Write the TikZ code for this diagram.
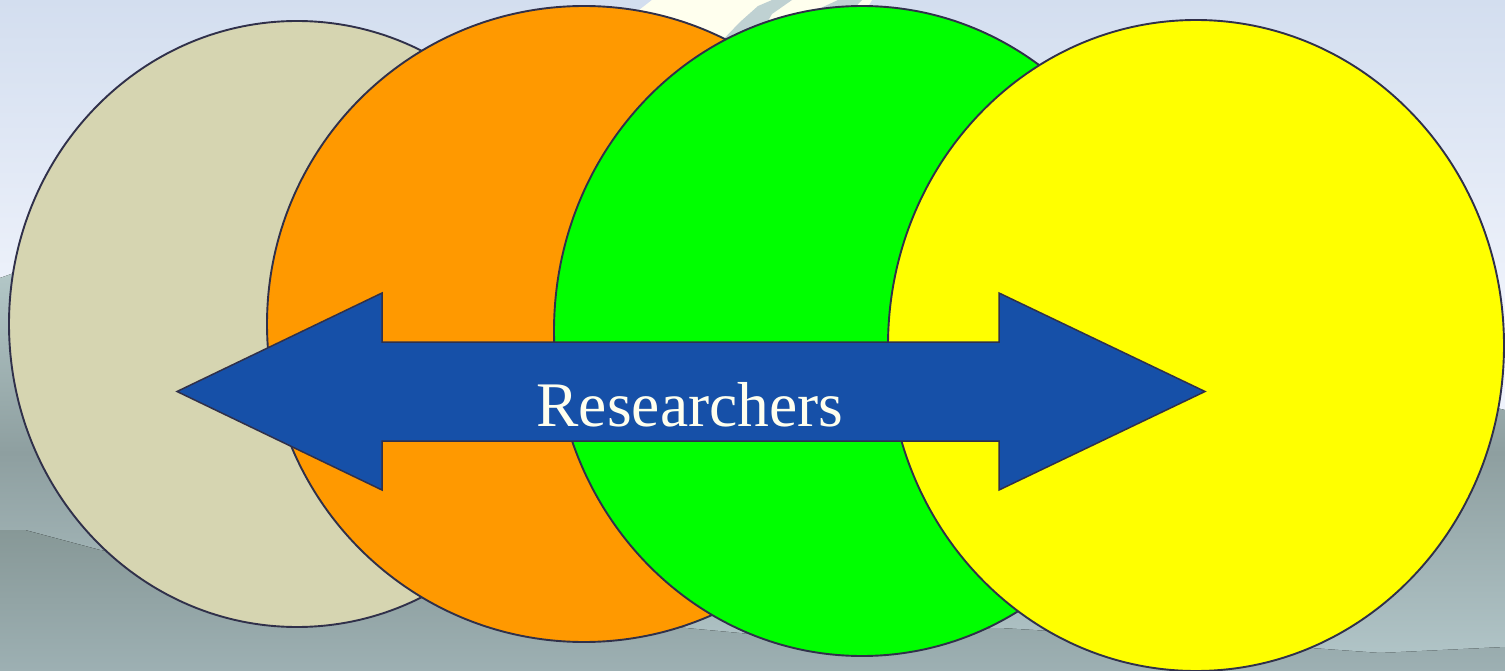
\documentclass[tikz,border=0pt]{standalone}
\usepackage{fontspec}
\setmainfont{Liberation Serif}
\usetikzlibrary{shapes.geometric}

\definecolor{skytop}{HTML}{D3DEEF}
\definecolor{skylow}{HTML}{EEF2FB}
\definecolor{hilltop}{HTML}{BACFCF}
\definecolor{hillmid}{HTML}{8E9FA0}
\definecolor{hilllow}{HTML}{B3C7CA}
\definecolor{fronttop}{HTML}{879897}
\definecolor{frontlow}{HTML}{9DB0B3}
\definecolor{snow}{HTML}{FFFFEE}
\definecolor{streak}{HTML}{BFD1D2}
\definecolor{rim}{HTML}{30304A}
\definecolor{beige}{HTML}{D6D5B1}
\definecolor{peel}{HTML}{FF9900}
\definecolor{leaf}{HTML}{00FF00}
\definecolor{lemon}{HTML}{FFFF00}
\definecolor{arrowblue}{HTML}{1650A8}
\tikzstyle{ring}=[draw=rim, ellipse, line width=1.9pt, inner sep=0pt]
\tikzstyle{arrowbody}=[draw=rim, fill=arrowblue, line width=1.5pt, line join=miter]
\tikzstyle{caption}=[text=snow, anchor=base, inner sep=0pt, font=\fontsize{63.5}{70}\selectfont]

\begin{document}
\begin{tikzpicture}[x=1pt, y=-1pt]
  \useasboundingbox (0,0) rectangle (1505,671);
  \clip (0,0) rectangle (1505,671);
  % background
  \fill[top color=skytop, bottom color=skylow] (0,0) rectangle (1505,300);
  \fill[skylow] (0,299) rectangle (1505,671);
  \fill[snow] (620,25) -- (652,0) -- (872,0) -- (860,20) -- (760,80) -- (640,80) -- cycle;
  \fill[streak] (715,48) -- (740,22) -- (758,6) -- (772,0) -- (792,0) -- (772,14) -- (758,38) -- cycle;
  \fill[streak] (812,12) -- (838,0) -- (862,0) -- (845,18) -- cycle;
  \fill[top color=hilltop, bottom color=hilllow, middle color=hillmid]
    (0,278) -- (120,235) -- (700,300) -- (1300,360) -- (1505,410) -- (1505,671) -- (0,671) -- cycle;
  \fill[top color=fronttop, bottom color=frontlow]
    (0,530) -- (25,530) -- (100,550) -- (300,575) -- (600,620) -- (750,634)
    -- (1000,628) -- (1200,640) -- (1380,653) -- (1505,647) -- (1505,671) -- (0,671) -- cycle;

  % circles
  \node[ring, fill=beige, minimum width=576pt, minimum height=606pt] (C1) at (297,324) {};
  \node[ring, fill=peel, minimum width=634pt, minimum height=636pt] (C2) at (584,324) {};
  \node[ring, fill=leaf, minimum width=616pt, minimum height=650pt] (C3) at (862,331) {};
  \node[ring, fill=lemon, minimum width=616pt, minimum height=651pt] (C4) at (1196,345.5) {};

  % double arrow
  \draw[arrowbody] (177,391.5) -- (382,293) -- (382,342) -- (999,342) -- (999,293)
    -- (1205,391.5) -- (999,490) -- (999,441) -- (382,441) -- (382,490) -- cycle;
  \node[caption] (R) at (690,426) {Researchers};
\end{tikzpicture}
\end{document}
